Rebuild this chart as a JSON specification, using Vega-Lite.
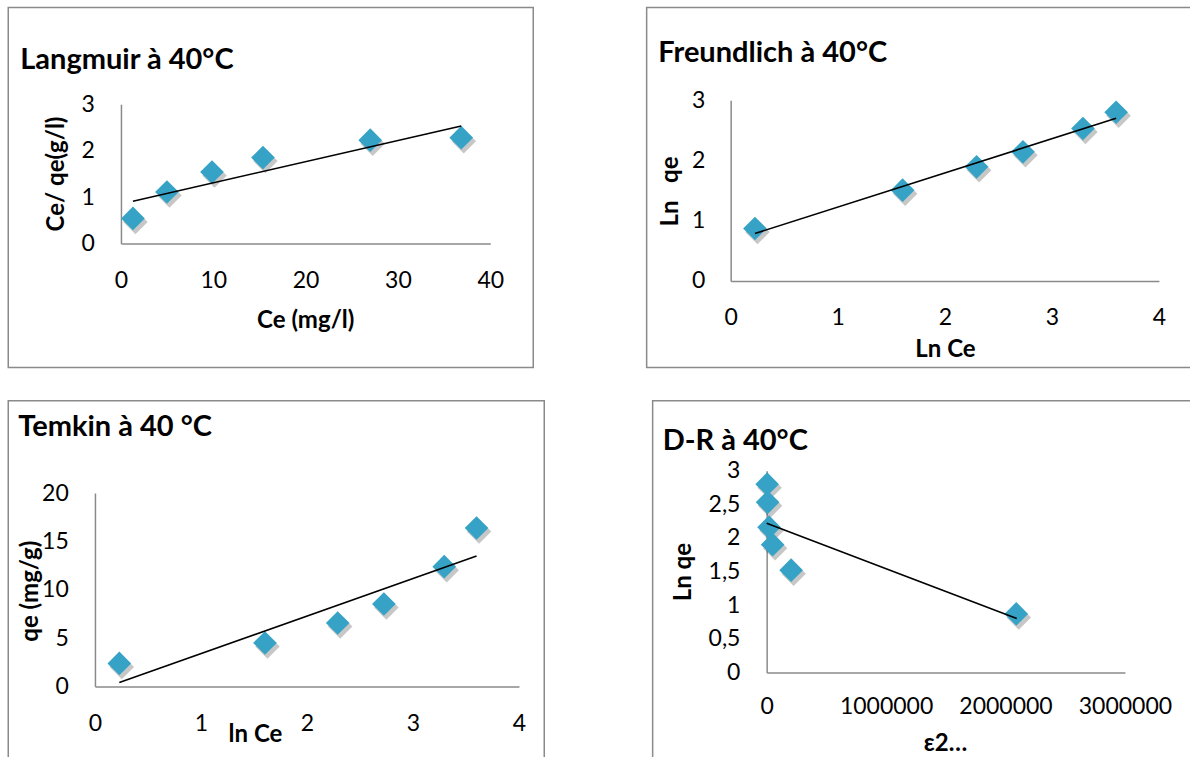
{
  "$schema": "https://vega.github.io/schema/vega-lite/v6.json",
  "padding": {"left": 7.25, "top": 6.5, "right": -16, "bottom": -14},
  "background": "white",
  "datasets": {
    "p1": [{"x": 1.30, "y": 0.54}, {"x": 4.98, "y": 1.11}, {"x": 9.86, "y": 1.54}, {"x": 15.38, "y": 1.85}, {"x": 27.0, "y": 2.225}, {"x": 36.86, "y": 2.28}],
    "p1fit": [{"x": 1.30, "y": 0.91}, {"x": 36.86, "y": 2.53}],
    "p2": [{"x": 0.227, "y": 0.87}, {"x": 1.606, "y": 1.507}, {"x": 2.297, "y": 1.894}, {"x": 2.73, "y": 2.143}, {"x": 3.29, "y": 2.53}, {"x": 3.60, "y": 2.80}],
    "p2fit": [{"x": 0.227, "y": 0.787}, {"x": 3.60, "y": 2.70}],
    "p3": [{"x": 0.23, "y": 2.38}, {"x": 1.604, "y": 4.49}, {"x": 2.29, "y": 6.56}, {"x": 2.726, "y": 8.52}, {"x": 3.295, "y": 12.38}, {"x": 3.60, "y": 16.38}],
    "p3fit": [{"x": 0.23, "y": 0.41}, {"x": 3.60, "y": 13.48}],
    "p4": [{"x": 4000, "y": 2.80}, {"x": 8000, "y": 2.53}, {"x": 20000, "y": 2.16}, {"x": 50000, "y": 1.90}, {"x": 205000, "y": 1.52}, {"x": 2090000, "y": 0.87}],
    "p4fit": [{"x": 0, "y": 2.22}, {"x": 2094000, "y": 0.80}]
  },
  "vconcat": [
    {
      "hconcat": [
        {
          "width": 525, "height": 360,
          "title": {"text": "Langmuir à 40°C", "anchor": "start", "frame": "group", "offset": -90, "dx": 12, "baseline": "alphabetic", "font": "Lato", "fontSize": 29, "fontWeight": "bold", "color": "#000000"},
          "encoding": {
            "x": {"field": "x", "type": "quantitative", "scale": {"domain": [0, 40], "range": [112.7, 482], "nice": false, "zero": false},
              "axis": {"title": "Ce (mg/l)", "values": [0, 10, 20, 30, 40], "offset": -124, "labelPadding": 44, "labelBaseline": "alphabetic", "titleX": 297, "titleY": 84, "titleBaseline": "alphabetic", "titleAlign": "center"}},
            "y": {"field": "y", "type": "quantitative", "scale": {"domain": [0, 3], "range": [236, 96.7], "nice": false, "zero": false},
              "axis": {"title": "Ce/ qe(g/l)", "values": [0, 1, 2, 3], "offset": -112.7, "labelPadding": 26.7, "titleX": -57.4, "titleY": 166, "titleAngle": 270, "titleBaseline": "alphabetic", "titleAlign": "center"}}
          },
          "layer": [
            {"data": {"name": "p1"}, "mark": {"type": "point", "shape": "diamond", "filled": true, "size": 600, "color": "#000000", "opacity": 0.22, "xOffset": 2.5, "yOffset": 3.5}},
            {"data": {"name": "p1"}, "mark": {"type": "point", "shape": "diamond", "filled": true, "size": 560, "color": "#36A3C6", "opacity": 1}},
            {"data": {"name": "p1fit"}, "mark": {"type": "line", "color": "#000000", "strokeWidth": 1.6}}
          ]
        },
        {
          "width": 558, "height": 360,
          "title": {"text": "Freundlich à 40°C", "anchor": "start", "frame": "group", "offset": -83.5, "dx": 11.6, "baseline": "alphabetic", "font": "Lato", "fontSize": 29, "fontWeight": "bold", "color": "#000000"},
          "encoding": {
            "x": {"field": "x", "type": "quantitative", "scale": {"domain": [0, 4], "range": [84, 512.3], "nice": false, "zero": false},
              "axis": {"title": "Ln Ce", "values": [0, 1, 2, 3, 4], "offset": -86.6, "labelPadding": 44, "labelBaseline": "alphabetic", "titleX": 298.3, "titleY": 75.5, "titleBaseline": "alphabetic", "titleAlign": "center"}},
            "y": {"field": "y", "type": "quantitative", "scale": {"domain": [0, 3], "range": [273.4, 92.7], "nice": false, "zero": false},
              "axis": {"title": "Ln\u00a0\u00a0\u00a0qe", "values": [0, 1, 2, 3], "offset": -84, "labelPadding": 25.7, "titleX": -52.7, "titleY": 183.5, "titleAngle": 270, "titleBaseline": "alphabetic", "titleAlign": "center"}}
          },
          "layer": [
            {"data": {"name": "p2"}, "mark": {"type": "point", "shape": "diamond", "filled": true, "size": 600, "color": "#000000", "opacity": 0.22, "xOffset": 2.5, "yOffset": 3.5}},
            {"data": {"name": "p2"}, "mark": {"type": "point", "shape": "diamond", "filled": true, "size": 560, "color": "#36A3C6", "opacity": 1}},
            {"data": {"name": "p2fit"}, "mark": {"type": "line", "color": "#000000", "strokeWidth": 1.6}}
          ]
        }
      ],
      "spacing": 111.4
    },
    {
      "hconcat": [
        {
          "width": 536, "height": 372,
          "title": {"text": "Temkin à 40 °C", "anchor": "start", "frame": "group", "offset": -64, "dx": 10, "baseline": "alphabetic", "font": "Lato", "fontSize": 29, "fontWeight": "bold", "color": "#000000"},
          "encoding": {
            "x": {"field": "x", "type": "quantitative", "scale": {"domain": [0, 4], "range": [86.7, 510.7], "nice": false, "zero": false},
              "axis": {"title": "ln Ce", "values": [0, 1, 2, 3, 4], "offset": -86.3, "labelPadding": 44, "labelBaseline": "alphabetic", "titleX": 246.7, "titleY": 55.5, "titleBaseline": "alphabetic", "titleAlign": "center"}},
            "y": {"field": "y", "type": "quantitative", "scale": {"domain": [0, 20], "range": [285.7, 92.3], "nice": false, "zero": false},
              "axis": {"title": "qe (mg/g)", "values": [0, 5, 10, 15, 20], "offset": -86.7, "labelPadding": 26.7, "titleX": -57, "titleY": 190, "titleAngle": 270, "titleBaseline": "alphabetic", "titleAlign": "center"}}
          },
          "layer": [
            {"data": {"name": "p3"}, "mark": {"type": "point", "shape": "diamond", "filled": true, "size": 600, "color": "#000000", "opacity": 0.22, "xOffset": 2.5, "yOffset": 3.5}},
            {"data": {"name": "p3"}, "mark": {"type": "point", "shape": "diamond", "filled": true, "size": 560, "color": "#36A3C6", "opacity": 1}},
            {"data": {"name": "p3fit"}, "mark": {"type": "line", "color": "#000000", "strokeWidth": 1.6}}
          ]
        },
        {
          "width": 552, "height": 372,
          "title": {"text": "D-R à 40°C", "anchor": "start", "frame": "group", "offset": -78, "dx": 10, "baseline": "alphabetic", "font": "Lato", "fontSize": 29, "fontWeight": "bold", "color": "#000000"},
          "encoding": {
            "x": {"field": "x", "type": "quantitative", "scale": {"domain": [0, 3000000], "range": [114, 472.3], "nice": false, "zero": false},
              "axis": {"title": "ε2…", "values": [0, 1000000, 2000000, 3000000], "format": "d", "offset": -100.3, "labelPadding": 41, "labelBaseline": "alphabetic", "titleX": 292.3, "titleY": 78, "titleBaseline": "alphabetic", "titleAlign": "center"}},
            "y": {"field": "y", "type": "quantitative", "scale": {"domain": [0, 3], "range": [271.7, 70], "nice": false, "zero": false},
              "axis": {"title": "Ln qe", "values": [0, 0.5, 1, 1.5, 2, 2.5, 3], "format": "~g", "labelExpr": "replace(datum.label, '.', ',')", "offset": -114, "labelPadding": 26.7, "titleX": -75.7, "titleY": 170.9, "titleAngle": 270, "titleBaseline": "alphabetic", "titleAlign": "center"}}
          },
          "layer": [
            {"data": {"name": "p4"}, "mark": {"type": "point", "shape": "diamond", "filled": true, "size": 600, "color": "#000000", "opacity": 0.22, "xOffset": 2.5, "yOffset": 3.5}},
            {"data": {"name": "p4"}, "mark": {"type": "point", "shape": "diamond", "filled": true, "size": 560, "color": "#36A3C6", "opacity": 1}},
            {"data": {"name": "p4fit"}, "mark": {"type": "line", "color": "#000000", "strokeWidth": 1.6}}
          ]
        }
      ],
      "spacing": 106.4
    }
  ],
  "spacing": 31.2,
  "config": {
    "view": {"stroke": "#8a8a8a", "strokeWidth": 1.5},
    "axis": {
      "grid": false, "ticks": false, "tickSize": 0,
      "domainColor": "#8a8a8a", "domainWidth": 1.5,
      "labelFont": "Lato", "labelFontSize": 23, "labelColor": "#000000",
      "labelFlush": false, "labelOverlap": false, "labelBound": false,
      "titleFont": "Lato", "titleFontSize": 24, "titleFontWeight": "bold", "titleColor": "#000000"
    }
  }
}
